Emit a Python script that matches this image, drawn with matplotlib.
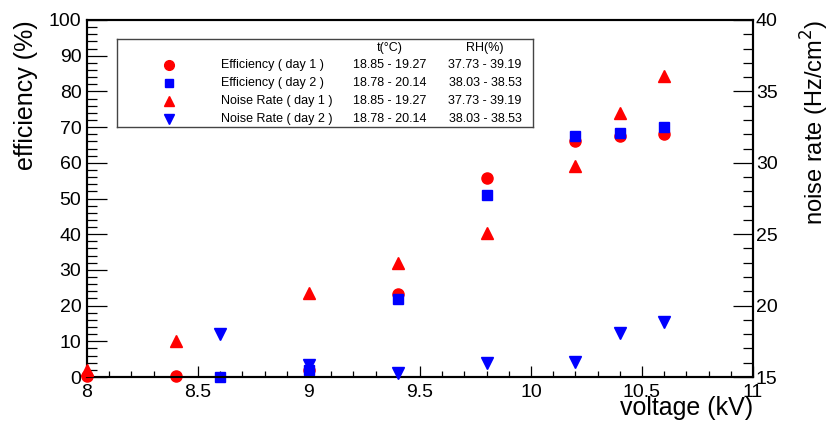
import matplotlib
matplotlib.use("Agg")
import matplotlib.pyplot as plt
from matplotlib.ticker import MultipleLocator, FuncFormatter
from matplotlib.patches import Rectangle

plt.rcParams['font.family'] = ['Liberation Sans', 'DejaVu Sans']

# ---- data ----
voltage_day1 = [8.0, 8.4, 9.0, 9.4, 9.8, 10.2, 10.4, 10.6]
eff_day1 = [0.3, 0.3, 2.0, 23.2, 55.7, 66.2, 67.4, 68.0]
noise_day1 = [15.5, 17.5, 20.85, 22.95, 25.1, 29.8, 33.5, 36.1]

voltage_day2 = [8.6, 9.0, 9.4, 9.8, 10.2, 10.4, 10.6]
eff_day2 = [0.0, 2.0, 21.8, 50.9, 67.6, 68.4, 69.9]
noise_day2 = [18.0, 15.85, 15.3, 16.0, 16.05, 18.1, 18.85]

legend_labels = ["Efficiency ( day 1 )", "Efficiency ( day 2 )",
                 "Noise Rate ( day 1 )", "Noise Rate ( day 2 )"]
legend_temp = ["18.85 - 19.27", "18.78 - 20.14", "18.85 - 19.27", "18.78 - 20.14"]
legend_rh = ["37.73 - 39.19", "38.03 - 38.53", "37.73 - 39.19", "38.03 - 38.53"]
legend_header = ["t(\u00b0C)", "RH(%)"]

RED = '#ff0000'
BLUE = '#0000ff'
styles = [('o', RED, 8), ('s', BLUE, 7), ('^', RED, 8), ('v', BLUE, 8)]

fig = plt.figure(figsize=(8.31, 4.21), dpi=100)
W, H = 831, 421
L, R, T, B = 87, 753, 20, 377
ax = fig.add_axes([L / W, 1 - B / H, (R - L) / W, (B - T) / H])
ax2 = ax.twinx()

ax.set_xlim(8, 11)
ax.set_ylim(0, 100)
ax2.set_ylim(15, 40)

# data
ax.plot(voltage_day1, eff_day1, linestyle='none', marker='o', color=RED, ms=8, clip_on=False, zorder=3)
ax.plot(voltage_day2, eff_day2, linestyle='none', marker='s', color=BLUE, ms=7, clip_on=False, zorder=4)
ax2.plot(voltage_day1, noise_day1, linestyle='none', marker='^', color=RED, ms=8, clip_on=False, zorder=3)
ax2.plot(voltage_day2, noise_day2, linestyle='none', marker='v', color=BLUE, ms=8, clip_on=False, zorder=4)

# ticks
fmt = FuncFormatter(lambda v, p: ('%g' % v))
ax.xaxis.set_major_locator(MultipleLocator(0.5))
ax.xaxis.set_minor_locator(MultipleLocator(0.1))
ax.xaxis.set_major_formatter(fmt)
ax.yaxis.set_major_locator(MultipleLocator(10))
ax.yaxis.set_minor_locator(MultipleLocator(2))
ax2.yaxis.set_major_locator(MultipleLocator(5))
ax2.yaxis.set_minor_locator(MultipleLocator(1))

ax.tick_params(axis='x', which='major', direction='in', length=8, width=0.9, labelsize=14, pad=5,
               top=False, bottom=True)
ax.tick_params(axis='x', which='minor', direction='in', length=4, width=0.9, top=False)
ax.tick_params(axis='y', which='major', direction='in', length=14.5, width=0.9, labelsize=14, pad=4,
               right=False, left=True)
ax.tick_params(axis='y', which='minor', direction='in', length=7.2, width=0.9, right=False)
ax2.tick_params(axis='y', which='major', direction='in', length=14.5, width=0.9, labelsize=14, pad=2)
ax2.tick_params(axis='y', which='minor', direction='in', length=7.2, width=0.9)

for a in (ax, ax2):
    for s in a.spines.values():
        s.set_linewidth(1.5)
        s.set_color('black')

# axis titles
fig.text(33 / W, 1 - 20 / H, 'efficiency (%)', rotation=90, rotation_mode='anchor',
         ha='right', va='baseline', fontsize=18)
fig.text(824 / W, 1 - 20 / H, 'noise rate (Hz/cm$^2$)', rotation=90, rotation_mode='anchor',
         ha='right', va='baseline', fontsize=17)
fig.text(753 / W, 1 - 415 / H, 'voltage (kV)', ha='right', va='baseline', fontsize=18)

# legend box
lx0, lx1, ly0, ly1 = 117, 533, 39, 127
lg = fig.add_axes([lx0 / W, 1 - ly1 / H, (lx1 - lx0) / W, (ly1 - ly0) / H])
lg.set_xlim(0, 1)
lg.set_ylim(0, 1)
lg.set_xticks([])
lg.set_yticks([])
for s in lg.spines.values():
    s.set_linewidth(1.0)
    s.set_color('#444444')
lg.patch.set_facecolor('white')

row_y = [0.705, 0.503, 0.295, 0.091]
hdr_y = 0.894
xm, xl, xt, xr = 0.125, 0.25, 0.656, 0.885
lg.text(xt, hdr_y, legend_header[0], ha='center', va='center', fontsize=9)
lg.text(xr, hdr_y, legend_header[1], ha='center', va='center', fontsize=9)
for i in range(4):
    m, c, ms = styles[i]
    lg.plot([xm], [row_y[i]], marker=m, color=c, ms=ms - 1, linestyle='none')
    lg.text(xl, row_y[i], legend_labels[i], ha='left', va='center', fontsize=9)
    lg.text(xt, row_y[i], legend_temp[i], ha='center', va='center', fontsize=9)
    lg.text(xr, row_y[i], legend_rh[i], ha='center', va='center', fontsize=9)

fig.savefig('out.png', dpi=100)
